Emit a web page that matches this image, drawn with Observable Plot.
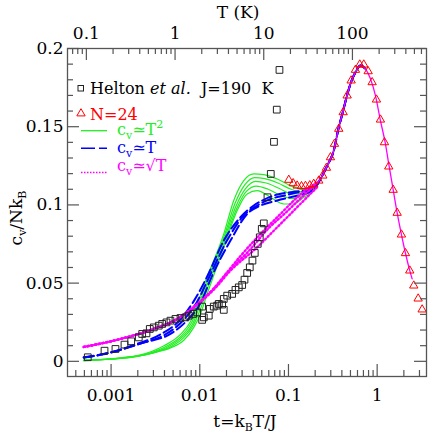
<!DOCTYPE html>
<html><head><meta charset="utf-8">
<script src="https://cdn.jsdelivr.net/npm/d3@7"></script>
<script src="https://cdn.jsdelivr.net/npm/@observablehq/plot@0.6"></script>
<style>body{margin:0;background:#fff;} svg{display:block;}</style>
</head><body><div id="chart"></div>
<script>
// ---------------- data ----------------
const J = 190; // K
const xTicks = [0.001, 0.01, 0.1, 1];
const topTicksK = [0.1, 1, 10, 100];
const yTicks = [0, 0.05, 0.1, 0.15, 0.2];

// Helton et al. experimental data [t, c_v/Nk_B]
const helton = [
[0.000546,0.0026],[0.000843,0.0068],[0.00112,0.0079],[0.001416,0.0107],[0.001685,0.0128],[0.002053,0.0153],
[0.002242,0.0175],[0.002506,0.0179],[0.002731,0.0207],[0.00303,0.0217],[0.00345,0.0228],[0.003768,0.0239],
[0.004213,0.0249],[0.004673,0.0260],[0.005321,0.0271],[0.00606,0.0277],[0.0069,0.0281],[0.007516,0.0292],
[0.008426,0.0303],[0.009348,0.0313],[0.01064,0.0350],[0.01064,0.0265],[0.0111,0.0281],[0.01263,0.0292],
[0.01296,0.0335],[0.01438,0.0350],[0.01571,0.0356],[0.01637,0.0367],[0.01788,0.0363],[0.01865,0.0399],
[0.01865,0.0329],[0.02037,0.0420],[0.02318,0.0431],[0.02526,0.0457],[0.02752,0.0473],[0.03006,0.0488],
[0.03192,0.0522],[0.03423,0.0565],[0.03662,0.0601],[0.03926,0.0644],[0.04169,0.0693],[0.04507,0.0751],
[0.04746,0.0793],[0.05,0.0847],[0.05267,0.0882],[0.05797,0.1049],[0.06318,0.1198],[0.06864,0.1403],
[0.07381,0.1609],[0.07915,0.1863]
];

// N=24 numerical data
const n24 = [
[0.1008,0.1160],[0.113,0.1138],[0.1253,0.1123],[0.1402,0.1119],[0.1555,0.1121],[0.1738,0.1125],[0.1927,0.1134],
[0.2196,0.1155],[0.2435,0.1187],[0.2682,0.1237],[0.2975,0.1304],[0.3301,0.1390],[0.369,0.1486],[0.4137,0.1592],
[0.4589,0.1699],[0.509,0.1795],[0.5692,0.1863],[0.6365,0.1897],[0.7063,0.1897],[0.7917,0.1854],[0.878,0.1784],
[0.982,0.1673],[1.089,0.1545],[1.209,0.1400],[1.351,0.1245],[1.515,0.1096],[1.681,0.0949],[1.879,0.0810],
[2.085,0.0691],[2.331,0.0580],[2.586,0.0484],[2.899,0.0401],[3.216,0.0331]
];

// shared high-temperature part of all fits
const tail = [
[0.2295,0.1166],[0.2731,0.1251],[0.3241,0.1347],[0.3663,0.1488],[0.4095,0.1592],[0.4507,0.1686],[0.5,0.1774],
[0.5692,0.1848],[0.6482,0.1891],[0.7381,0.1870],[0.8404,0.1806],[0.9568,0.1699],[1.089,0.1539],[1.24,0.1390],
[1.351,0.1262],[1.515,0.1098],[1.681,0.0949],[1.879,0.0810],[2.085,0.0691],[2.331,0.0580],[2.481,0.0527]
];

// c_v ~ T^2 fits (green)
const green1 = [[0.000488,0.0004],[0.00128,0.0022],[0.00198,0.0036],[0.0039,0.0098],[0.00606,0.0172],[0.00786,0.0255],[0.00967,0.0385],[0.0116,0.0516],[0.0132,0.0593],[0.01865,0.0815],[0.02416,0.1028],[0.03134,0.1155],[0.04062,0.1198],[0.05267,0.1194],[0.07459,0.1166],[0.1053,0.1123],[0.1366,0.1101],[0.177,0.1091]];
const green2 = [[0.00049,0.0005],[0.00128,0.0021],[0.0025,0.0046],[0.0042,0.0096],[0.0063,0.0166],[0.0081,0.0248],[0.0099,0.0372],[0.0118,0.0500],[0.0136,0.0590],[0.0191,0.0810],[0.025,0.1010],[0.0323,0.1130],[0.0415,0.1175],[0.054,0.1168],[0.076,0.1140],[0.107,0.1100],[0.139,0.1085],[0.18,0.1090]];
const green3 = [[0.00049,0.0006],[0.00128,0.0020],[0.0027,0.0048],[0.0044,0.0093],[0.0064,0.0158],[0.0083,0.0238],[0.01,0.0358],[0.012,0.0485],[0.014,0.0590],[0.0195,0.0805],[0.0255,0.0990],[0.033,0.1105],[0.0425,0.1150],[0.056,0.1140],[0.079,0.1105],[0.109,0.1070],[0.142,0.1075],[0.185,0.1092]];
const green4 = [[0.00049,0.0007],[0.00128,0.0019],[0.0029,0.0052],[0.0046,0.0090],[0.0065,0.0148],[0.0084,0.0228],[0.0101,0.0330],[0.0121,0.0460],[0.0145,0.0585],[0.02,0.0800],[0.026,0.0975],[0.0337,0.1088],[0.0435,0.1120],[0.059,0.1100],[0.083,0.1060],[0.111,0.1040],[0.145,0.1060],[0.19,0.1092]];
const green5 = [[0.000492,0.0008],[0.00128,0.0018],[0.00303,0.0056],[0.00467,0.0086],[0.0066,0.0135],[0.00856,0.0217],[0.01018,0.0303],[0.01212,0.0431],[0.01503,0.0580],[0.02037,0.0793],[0.0264,0.0964],[0.03423,0.1070],[0.04437,0.1091],[0.06268,0.1049],[0.08851,0.1006],[0.1148,0.1006],[0.1488,0.1049],[0.1928,0.1091]];

// c_v ~ T fits (blue)
const blue1 = [[0.000492,0.0026],[0.00082,0.0047],[0.00197,0.0112],[0.003605,0.0172],[0.00606,0.0268],[0.008559,0.0385],[0.01212,0.0542],[0.01865,0.0772],[0.02876,0.0921],[0.04062,0.0996],[0.05052,0.1028],[0.0683,0.1060],[0.1053,0.1081],[0.1488,0.1091],[0.1928,0.1104]];
const blue2 = [[0.000492,0.0025],[0.00082,0.0046],[0.0021,0.0112],[0.0041,0.0172],[0.0066,0.0266],[0.0093,0.0380],[0.0129,0.0545],[0.0203,0.0772],[0.0313,0.0932],[0.0445,0.0996],[0.061,0.1035],[0.09,0.1060],[0.127,0.1080],[0.17,0.1098]];
const blue3 = [[0.000492,0.0024],[0.00082,0.0045],[0.00234,0.0120],[0.00467,0.0175],[0.00721,0.0262],[0.01018,0.0372],[0.0138,0.0548],[0.02219,0.0772],[0.03423,0.0942],[0.04834,0.0996],[0.07459,0.1028],[0.1053,0.1049],[0.1488,0.1070],[0.1928,0.1098]];

// c_v ~ sqrt(T) fits (magenta)
const mag1 = [[0.000492,0.0092],[0.001276,0.0143],[0.00303,0.0207],[0.005562,0.0271],[0.009348,0.0366],[0.01438,0.0467],[0.02037,0.0570],[0.02876,0.0673],[0.05267,0.0836],[0.08124,0.0942],[0.1148,0.1028],[0.1625,0.1102],[0.2107,0.1143]];
const mag2 = [[0.000492,0.0092],[0.001276,0.0143],[0.00303,0.0207],[0.005562,0.0271],[0.009348,0.0365],[0.01438,0.0463],[0.021,0.0574],[0.035,0.0700],[0.062,0.0860],[0.093,0.0950],[0.13,0.1030],[0.185,0.1110]];
const mag3 = [[0.000492,0.0092],[0.001276,0.0143],[0.00303,0.0207],[0.005562,0.0271],[0.009348,0.0363],[0.01438,0.0458],[0.02219,0.0580],[0.04437,0.0729],[0.07459,0.0857],[0.1053,0.0942],[0.1488,0.1028],[0.2107,0.1113]];

// ---------------- layout ----------------
const W = 436, H = 436, mL = 67, mR = 10, mT = 48, mB = 60;
const fw = W - mL - mR, fh = H - mT - mB;
const xDom = [3.225e-4, 3.6];
const yDom = [-0.0097, 0.2];
const axisCol = "#555";
const font = "DejaVu Serif";

const tailRise = tail.filter(([t]) => t <= 0.75);
const toRows = (arrs, prefix, tl) => arrs.flatMap((a, i) => [...a, ...tl].map(([t, c]) => ({t, c, id: prefix + i})));
const greenRows = toRows([green1, green2, green3, green4, green5], "g", tailRise);
const blueRows = toRows([blue1, blue2, blue3], "b", tailRise);
const magRows = toRows([mag1, mag2, mag3], "m", []);
const magTail = [mag2[mag2.length - 1], ...tail].map(([t, c]) => ({t, c}));

// tick positions
const xAll = d3.scaleLog().domain(xDom).ticks();
const isPow = v => Math.abs(Math.log10(v) - Math.round(Math.log10(v))) < 1e-9;
const xMinor = xAll.filter(v => !isPow(v));
const topAll = d3.scaleLog().domain([xDom[0] * J, xDom[1] * J]).ticks();
const topMajor = topTicksK.map(T => T / J);
const topMinor = topAll.filter(v => !isPow(v)).map(T => T / J);
const yMinor = d3.range(0, 0.2001, 0.01).filter(v => Math.abs(v / 0.05 - Math.round(v / 0.05)) > 1e-6);

const plot = Plot.plot({
  width: W, height: H,
  marginLeft: mL, marginRight: mR, marginTop: mT, marginBottom: mB,
  x: {type: "log", domain: xDom},
  y: {domain: yDom},
  style: {fontFamily: font, fontSize: "17px", background: "#fff", color: "#000"},
  marks: [
    Plot.line(greenRows, {x: "t", y: "c", z: "id", stroke: "#22ee22", strokeWidth: 1.2, curve: "monotone-x"}),
    Plot.line(blueRows, {x: "t", y: "c", z: "id", stroke: "#0000ff", strokeWidth: 2, strokeDasharray: "10,4", curve: "monotone-x"}),
    Plot.line(magRows, {x: "t", y: "c", z: "id", stroke: "#ff00ff", strokeWidth: 2.4, strokeDasharray: "1.4,2.4", curve: "monotone-x"}),
    Plot.line(magTail, {x: "t", y: "c", stroke: "#ff00ff", strokeWidth: 1.3, curve: "monotone-x"}),
    Plot.dot(helton, {x: d => d[0], y: d => d[1], symbol: "square", r: 3.8, stroke: "#222", fill: "none", strokeWidth: 1}),
    Plot.dot(n24, {x: d => d[0], y: d => d[1], symbol: "triangle", r: 3.1, stroke: "#ff0000", fill: "none", strokeWidth: 1}),
    // inward ticks
    Plot.ruleX(xTicks, {x: d => d, insetTop: fh - 12, stroke: axisCol, strokeWidth: 1.2}),
    Plot.ruleX(xMinor, {x: d => d, insetTop: fh - 6, stroke: axisCol, strokeWidth: 1.2}),
    Plot.ruleX(topMajor, {x: d => d, insetBottom: fh - 12, stroke: axisCol, strokeWidth: 1.2}),
    Plot.ruleX(topMinor, {x: d => d, insetBottom: fh - 6, stroke: axisCol, strokeWidth: 1.2}),
    Plot.ruleY(yTicks, {y: d => d, insetRight: fw - 12, stroke: axisCol, strokeWidth: 1.2}),
    Plot.ruleY(yTicks, {y: d => d, insetLeft: fw - 12, stroke: axisCol, strokeWidth: 1.2}),
    Plot.ruleY(yMinor, {y: d => d, insetRight: fw - 6, stroke: axisCol, strokeWidth: 1.2}),
    Plot.ruleY(yMinor, {y: d => d, insetLeft: fw - 6, stroke: axisCol, strokeWidth: 1.2}),
    Plot.frame({stroke: axisCol, strokeWidth: 1.3}),
    Plot.axisX({anchor: "bottom", ticks: xTicks, tickSize: 0, tickPadding: 12, label: null, tickFormat: d => String(d)}),
    Plot.text(topMajor, {x: d => d, frameAnchor: "top", dy: -10, lineAnchor: "bottom", fontSize: 17,
      text: d => String(+(d * J).toPrecision(3))}),
    Plot.axisY({anchor: "left", ticks: yTicks, tickSize: 0, tickPadding: 4, label: null, tickFormat: d => String(d)})
  ]
});
document.getElementById("chart").appendChild(plot);

// ---------------- titles & legend (rich text) ----------------
const svg = d3.select(plot);
const g = svg.append("g").attr("font-family", font).attr("font-size", 16).attr("text-anchor", "start");

function subText(sel, parts) {
  // parts: [text, shift]; shift >0 subscript, <0 superscript
  let cur = 0;
  parts.forEach(([txt, shift]) => {
    const s = sel.append("tspan").text(txt).attr("dy", shift - cur);
    if (shift !== 0) s.attr("font-size", 11);
    cur = shift;
  });
}

// axis titles
const xt = g.append("text").attr("x", 245).attr("y", 427).attr("text-anchor", "middle").attr("font-size", 17);
subText(xt, [["t=k", 0], ["B", 4], ["T/J", 0]]);

g.append("text").attr("x", 238).attr("y", 18).attr("text-anchor", "middle").attr("font-size", 17).text("T (K)");

const yt = g.append("text").attr("transform", "translate(22,218) rotate(-90)").attr("text-anchor", "middle").attr("font-size", 17);
subText(yt, [["c", 0], ["v", 4], ["/Nk", 0], ["B", 4]]);

// legend
const lg = g.append("g");
lg.append("rect").attr("x", 78).attr("y", 85.5).attr("width", 5.5).attr("height", 5.5).attr("fill", "none").attr("stroke", "#222");
const t1 = lg.append("text").attr("x", 90).attr("y", 94).attr("fill", "#000");
t1.append("tspan").text("Helton ");
t1.append("tspan").text("et al.").attr("font-style", "italic");
t1.append("tspan").text("\u00A0 J=190\u00A0 K");

lg.append("path").attr("transform", "translate(81,113.5)").attr("d", d3.symbol(d3.symbolTriangle, 30)()).attr("fill", "none").attr("stroke", "#ff0000");
lg.append("text").attr("x", 90).attr("y", 120).attr("fill", "#ff0000").text("N=24");

lg.append("line").attr("x1", 81).attr("x2", 107).attr("y1", 130.7).attr("y2", 130.7).attr("stroke", "#22ee22").attr("stroke-width", 1.3);
const t3 = lg.append("text").attr("x", 117).attr("y", 135).attr("fill", "#22ee22");
subText(t3, [["c", 0], ["v", 4], ["\u2243T", 0], ["2", -7]]);

lg.append("line").attr("x1", 81).attr("x2", 107).attr("y1", 148.3).attr("y2", 148.3).attr("stroke", "#0000ff").attr("stroke-width", 1.6).attr("stroke-dasharray", "14,4");
const t4 = lg.append("text").attr("x", 117).attr("y", 153).attr("fill", "#0000ff");
subText(t4, [["c", 0], ["v", 4], ["\u2243T", 0]]);

lg.append("line").attr("x1", 81).attr("x2", 107).attr("y1", 172.5).attr("y2", 172.5).attr("stroke", "#ff00ff").attr("stroke-width", 1.5).attr("stroke-dasharray", "1.5,1.5");
const t5 = lg.append("text").attr("x", 117).attr("y", 171).attr("fill", "#ff00ff");
subText(t5, [["c", 0], ["v", 4], ["\u2243\u221AT", 0]]);
</script>
</body></html>
